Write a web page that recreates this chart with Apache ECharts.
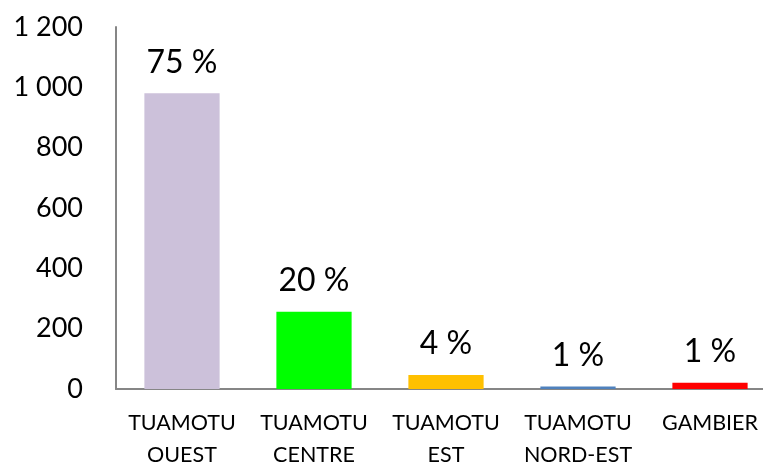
<!DOCTYPE html>
<html><head><meta charset="utf-8">
<script src="https://cdn.jsdelivr.net/npm/echarts@6/dist/echarts.min.js"></script>
<style>html,body{margin:0;padding:0;background:#fff}#c{width:763px;height:465px}</style>
</head><body><div id="c"></div>
<script>
const categories = ['TUAMOTU\nOUEST', 'TUAMOTU\nCENTRE', 'TUAMOTU\nEST', 'TUAMOTU\nNORD-EST', 'GAMBIER'];
const values = [980, 256, 46, 8, 21];
const shares = ['75 %', '20 %', '4 %', '1 %', '1 %'];
const colors = ['#CCC1DA', '#00FF00', '#FFC000', '#4F81BD', '#FF0000'];
const yTicks = [0, 200, 400, 600, 800, 1000, 1200];

const chart = echarts.init(document.getElementById('c'), null, {renderer: 'canvas'});
const font = 'Lato, "Open Sans", sans-serif';
chart.setOption({
  animation: false,
  grid: {left: 116, right: -13, top: 27, bottom: 76, containLabel: false, outerBoundsMode: 'none'},
  xAxis: {
    type: 'category', data: categories,
    axisLine: {lineStyle: {color: '#868686', width: 2}},
    axisTick: {show: false},
    axisLabel: {color: '#000', fontFamily: font, fontSize: 21.5, lineHeight: 32, margin: 18, interval: 0}
  },
  yAxis: {
    type: 'value', min: yTicks[0], max: yTicks[yTicks.length - 1], interval: 200,
    axisLine: {show: true, lineStyle: {color: '#868686', width: 2}},
    axisTick: {show: false},
    splitLine: {show: false},
    axisLabel: {color: '#000', fontFamily: font, fontSize: 27, margin: 33,
      formatter: v => v >= 1000 ? Math.floor(v / 1000) + ' ' + String(v % 1000).padStart(3, '0') : String(v)}
  },
  series: [{
    type: 'bar',
    barWidth: '57%',
    data: values.map((v, i) => ({value: v, itemStyle: {color: colors[i]}})),
    label: {
      show: true, position: 'top', distance: 15, color: '#000', fontFamily: font, fontSize: 32,
      formatter: p => shares[p.dataIndex]
    }
  }]
});
</script></body></html>
